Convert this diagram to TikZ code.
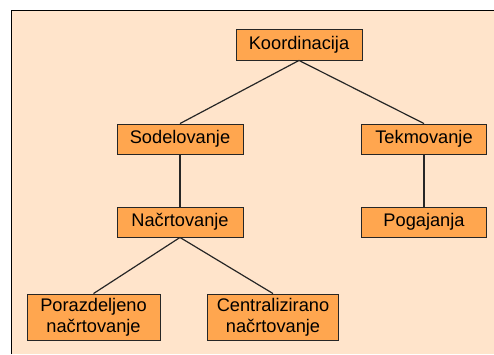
\documentclass[tikz,border=0pt]{standalone}
\usepackage{fontspec}
\setmainfont{Liberation Sans}
\usepackage{xcolor}
\usepackage{tikz}
\definecolor{bg}{HTML}{FFE4CB}
\definecolor{boxfill}{HTML}{FFA64F}
\definecolor{edge}{HTML}{262626}
\tikzset{
  frame/.style={draw=black, line width=1pt},
  box/.style={draw=edge, fill=boxfill, line width=0.9pt, inner sep=0pt,
    minimum height=30bp, font=\fontsize{18.3}{21.5}\selectfont},
  tall/.style={box, minimum height=46bp, align=center},
  link/.style={draw=edge, line width=1.2pt},
}

\begin{document}
\begin{tikzpicture}[x=1bp,y=1bp]
  \useasboundingbox (0,0) rectangle (494,354);
  \fill[bg] (11,0) rectangle (494,344);
  \draw[frame] (11,0) -- (11,344) -- (494,344);
  \node[box, minimum width=126bp, minimum height=31bp] (koord) at (299,309.5) {Koordinacija};
  \node[box, minimum width=126bp] (sodel) at (180,215) {Sodelovanje};
  \node[box, minimum width=125bp] (tekmo) at (424,215) {Tekmovanje};
  \node[box, minimum width=126bp] (nacrt) at (180,132) {Načrtovanje};
  \node[box, minimum width=125bp] (pogaj) at (424,132) {Pogajanja};
  \node[tall, minimum width=133bp] (poraz) at (93.5,37) {Porazdeljeno\\načrtovanje};
  \node[tall, minimum width=131bp] (centr) at (273,37) {Centralizirano\\načrtovanje};
  \foreach \A/\B in {koord/sodel,koord/tekmo,sodel/nacrt,tekmo/pogaj,nacrt/poraz,nacrt/centr}
    \draw[link] (\A.south) -- (\B.north);
\end{tikzpicture}
\end{document}
